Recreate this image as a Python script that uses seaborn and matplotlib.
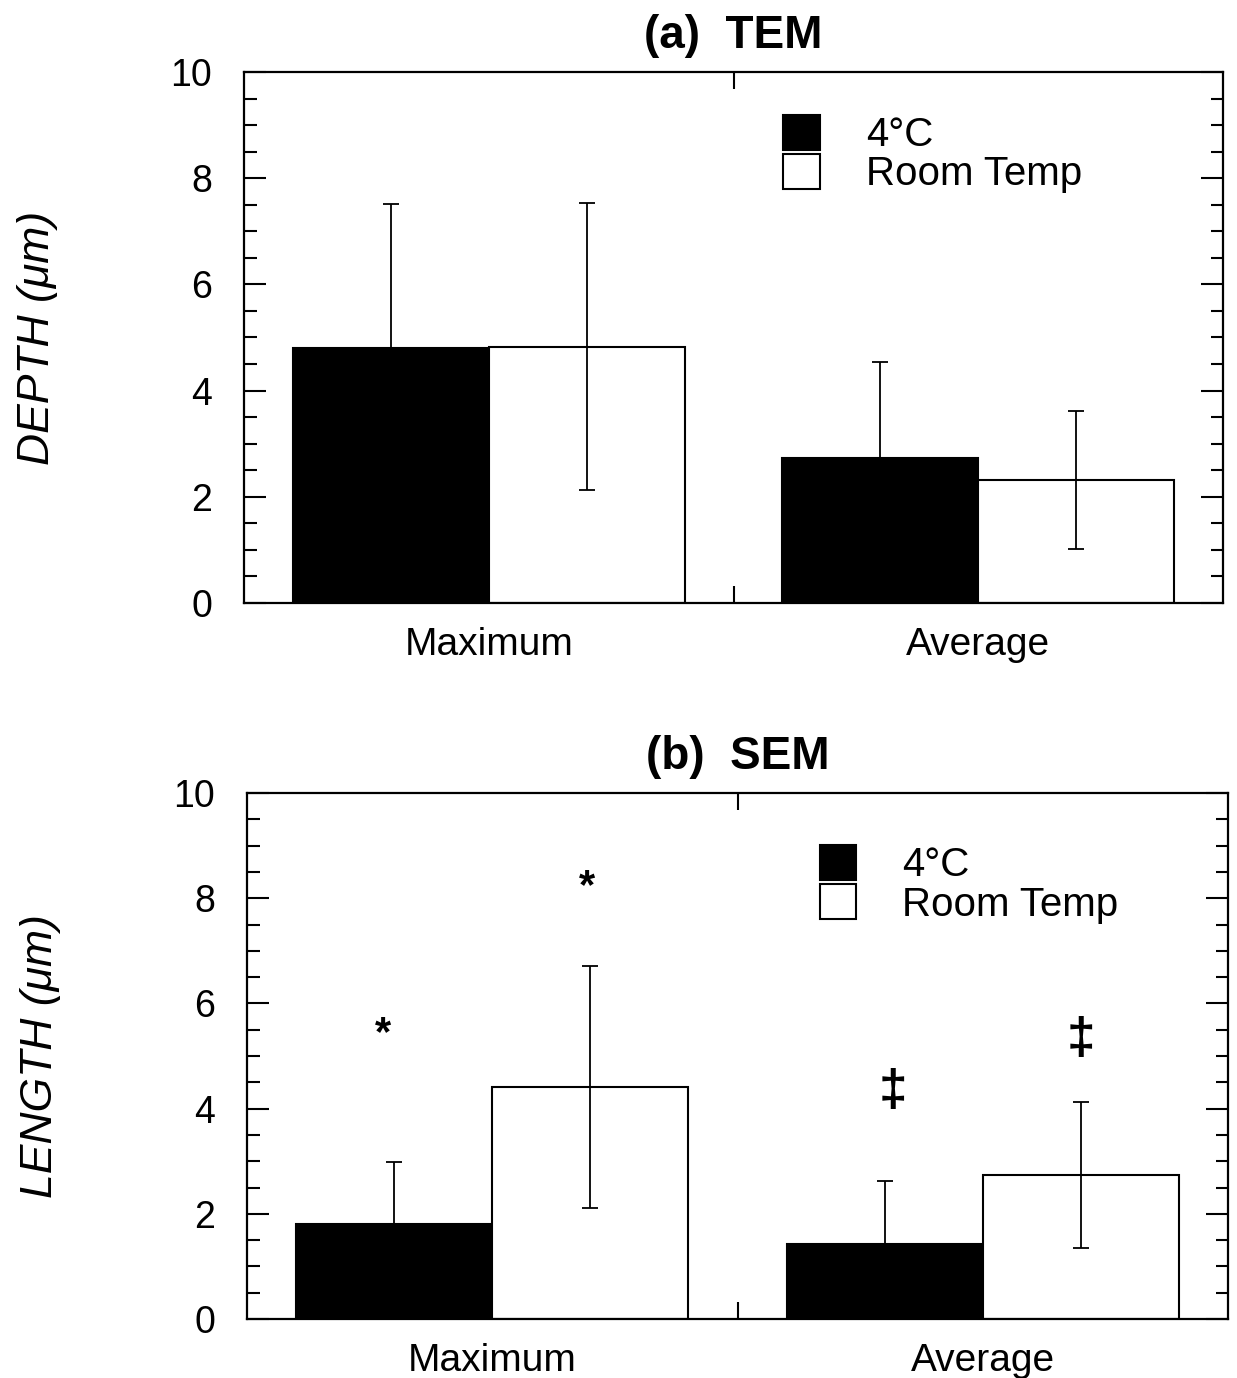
import matplotlib
matplotlib.use("Agg")
import matplotlib.pyplot as plt
from matplotlib.ticker import MultipleLocator, FixedLocator
import numpy as np
import pandas as pd
import seaborn as sns

# Measurement categories and temperature groups
measures = ["Maximum", "Average"]
temps = ["4\u00b0C", "Room Temp"]

# (a) TEM: depth (µm), mean and error for each group
tem_cold = [4.80, 2.73]
tem_cold_err = [2.71, 1.81]
tem_room = [4.83, 2.31]
tem_room_err = [2.71, 1.30]

# (b) SEM: length (µm), mean and error for each group
sem_cold = [1.80, 1.42]
sem_cold_err = [1.19, 1.20]
sem_room = [4.41, 2.74]
sem_room_err = [2.30, 1.39]

# significance markers on the SEM panel: (symbol, measure index, group index, y)
sem_marks_sym = ["*", "*", "\u2021", "\u2021"]
sem_marks_meas = [0, 0, 1, 1]
sem_marks_grp = [0, 1, 0, 1]
sem_marks_y = [5.20, 8.00, 4.05, 5.03]

# small horizontal nudges of the markers, in category units
mark_dx = [-0.022, -0.006, 0.016, 0.0]
mark_size = [30, 30, 37, 37]

sns.set_theme(style="white")
plt.rcParams["font.family"] = ["Liberation Sans", "DejaVu Sans"]
plt.rcParams["text.color"] = "black"
plt.rcParams["axes.labelcolor"] = "black"
plt.rcParams["xtick.color"] = "black"
plt.rcParams["ytick.color"] = "black"

W, H = 1237, 1378
fig = plt.figure(figsize=(W / 100, H / 100), dpi=100)
ax1 = fig.add_axes([244 / W, 1 - 603 / H, (1223 - 244) / W, (603 - 72) / H])
ax2 = fig.add_axes([247 / W, 1 - 1319 / H, (1228 - 247) / W, (1319 - 793) / H])


def frame(df_vals, df_errs):
    rows = []
    for t, vals, errs in zip(temps, df_vals, df_errs):
        for m, v, e in zip(measures, vals, errs):
            rows.append({"measure": m, "temp": t, "value": v, "err": e})
    return pd.DataFrame(rows)


def draw_panel(ax, df, title, ylabel, legend_anchor):
    sns.barplot(data=df, x="measure", y="value", hue="temp", order=measures,
                hue_order=temps, palette=["black", "white"], edgecolor="black",
                linewidth=1.5, errorbar=None, width=0.8, saturation=1, ax=ax)
    # error bars at the centre of each bar
    xs, ys, es = [], [], []
    for gi, t in enumerate(temps):
        for mi, m in enumerate(measures):
            row = df[(df.temp == t) & (df.measure == m)].iloc[0]
            xs.append(mi - 0.2 + 0.4 * gi)
            ys.append(row.value)
            es.append(row.err)
    ax.errorbar(xs, ys, yerr=es, fmt="none", ecolor="black", elinewidth=1.3,
                capsize=6, capthick=1.3, zorder=5)

    ax.set_xlim(-0.5, 1.5)
    ax.set_ylim(0, 10)
    ax.yaxis.set_major_locator(MultipleLocator(2))
    ax.yaxis.set_minor_locator(MultipleLocator(0.5))
    ax.xaxis.set_minor_locator(FixedLocator([0.5]))
    ax.tick_params(axis="y", which="major", direction="in", length=16, width=1.5,
                   left=True, right=True, labelsize=27, pad=23, colors="black")
    ax.tick_params(axis="y", which="minor", direction="in", length=9, width=1.5,
                   left=True, right=True)
    ax.tick_params(axis="x", which="major", length=0, labelsize=28, pad=17,
                   colors="black")
    ax.tick_params(axis="x", which="minor", direction="in", length=12, width=1.5,
                   top=True, bottom=True)
    for s in ax.spines.values():
        s.set_visible(True)
        s.set_color("black")
        s.set_linewidth(1.6)
    ax.set_xlabel("")
    ax.set_ylabel(ylabel, fontsize=32, style="italic", color="black")
    ax.yaxis.set_label_coords(-0.19, 0.5)
    ax.set_title(title, fontsize=33, fontweight="bold", pad=17, color="black")

    handles, labels = ax.get_legend_handles_labels()
    ax.legend(handles, labels, loc="upper left", bbox_to_anchor=legend_anchor,
              frameon=False, fontsize=29, handlelength=0.9, handleheight=0.95,
              handletextpad=1.15, labelspacing=0.0, borderpad=0,
              borderaxespad=0, labelcolor="black")


draw_panel(ax1, frame([tem_cold, tem_room], [tem_cold_err, tem_room_err]),
           "(a)  TEM", "DEPTH (\u03bcm)", (0.551, 0.919))
draw_panel(ax2, frame([sem_cold, sem_room], [sem_cold_err, sem_room_err]),
           "(b)  SEM", "LENGTH (\u03bcm)", (0.584, 0.901))

for sym, mi, gi, y, dx, fs in zip(sem_marks_sym, sem_marks_meas, sem_marks_grp,
                                  sem_marks_y, mark_dx, mark_size):
    x = mi - 0.2 + 0.4 * gi + dx
    ax2.text(x, y, sym, ha="center", va="baseline", fontsize=fs,
             fontweight="bold", color="black")

fig.savefig("out.png", dpi=100, facecolor="white")
